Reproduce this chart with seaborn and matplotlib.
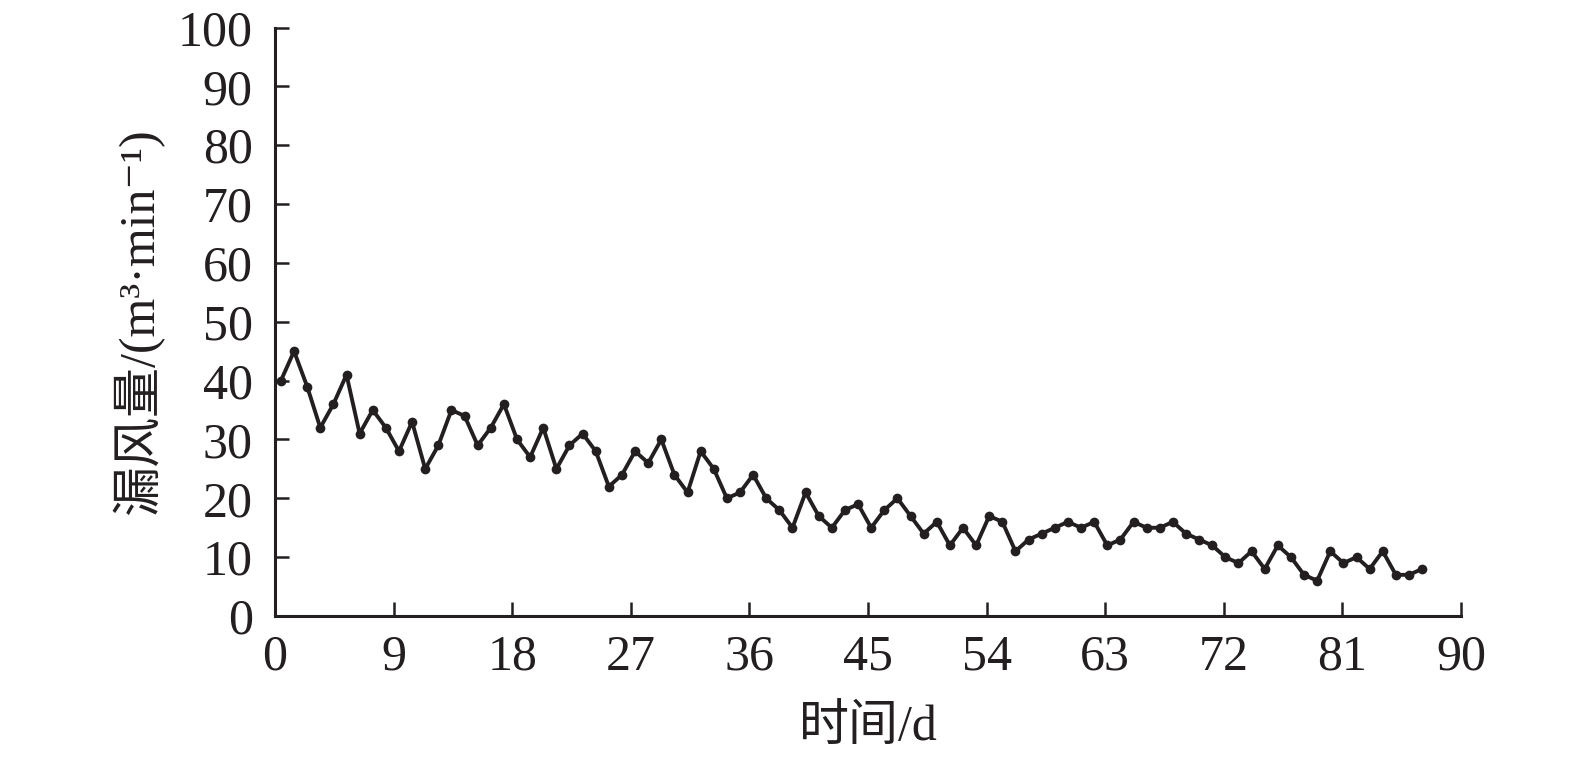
import numpy as np
import pandas as pd
import matplotlib
matplotlib.use("Agg")
import matplotlib.pyplot as plt
import seaborn as sns

# data
leak = [40, 45, 39, 32, 36, 41, 31, 35, 32, 28, 33, 25, 29, 35, 34, 29, 32, 36, 30, 27,
        32, 25, 29, 31, 28, 22, 24, 28, 26, 30, 24,
        21, 28, 25, 20, 21, 24, 20, 18, 15, 21, 17, 15, 18, 19, 15, 18, 20, 17, 14,
        16, 12, 15, 12, 17, 16, 11, 13, 14, 15,
        16, 15, 16, 12, 13, 16, 15, 15, 16, 14, 13, 12, 10, 9, 11, 8, 12, 10, 7, 6,
        11, 9, 10, 8, 11, 7, 7, 8]
days = np.linspace(0.45, 87.05, len(leak))
xticks = [0, 9, 18, 27, 36, 45, 54, 63, 72, 81, 90]
yticks = [0, 10, 20, 30, 40, 50, 60, 70, 80, 90, 100]

df = pd.DataFrame({"day": days, "leak": leak})

sns.set_theme(style="ticks")
plt.rcParams["font.family"] = ["Liberation Serif", "Noto Sans CJK SC", "DejaVu Serif"]

fig = plt.figure(figsize=(15.75, 7.58), dpi=100)
ax = fig.add_axes([0.1746, 0.1873, 0.9276 - 0.1746, 0.9637 - 0.1873])

color = "#231f20"
sns.lineplot(data=df, x="day", y="leak", ax=ax, color=color, lw=2.8,
             marker="o", markersize=7, markeredgewidth=0, markerfacecolor=color)

ax.set_xlim(0, 90)
ax.set_ylim(0, 100)
ax.set_xticks(xticks)
ax.set_yticks(yticks)
ax.set_xticklabels([str(t) for t in xticks])
ax.set_yticklabels([str(t) for t in yticks])

for s in ["top", "right"]:
    ax.spines[s].set_visible(False)
for s in ["left", "bottom"]:
    ax.spines[s].set_linewidth(2.2)
    ax.spines[s].set_color(color)

ax.tick_params(axis="both", direction="in", length=10, width=1.8, colors=color,
               labelsize=36, labelcolor=color)
ax.tick_params(axis="y", pad=16)
ax.tick_params(axis="x", pad=13)

ax.set_xlabel("时间/d", fontsize=36, color=color, labelpad=17)
ax.set_ylabel("漏风量/(m³·min⁻¹)", fontsize=36, color=color, labelpad=10)

fig.savefig("out.png", dpi=100, facecolor="white")
